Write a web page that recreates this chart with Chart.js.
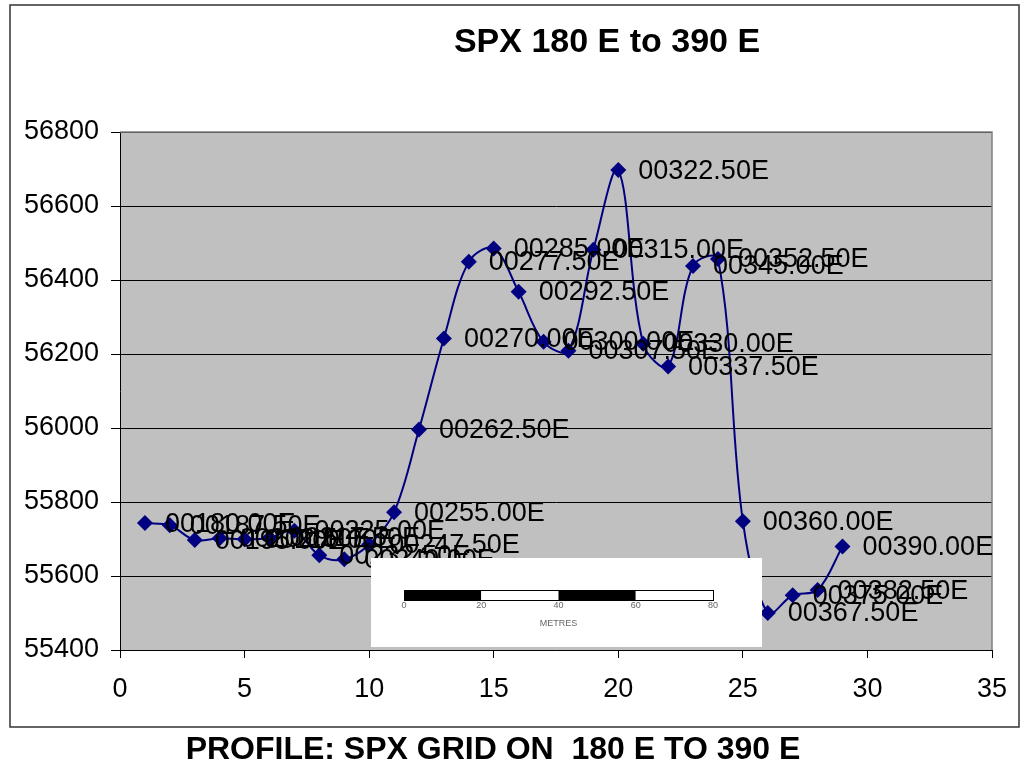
<!DOCTYPE html>
<html>
<head>
<meta charset="utf-8">
<title>SPX 180 E to 390 E</title>
<script src="https://cdn.jsdelivr.net/npm/chart.js@4/dist/chart.umd.min.js"></script>
<style>
  html, body { margin: 0; padding: 0; background: #fff; }
  #wrap { position: relative; width: 1026px; height: 766px; overflow: hidden; }
  #chart { position: absolute; left: 0; top: 0; }
  .caption {
    position: absolute; white-space: pre; transform: translateX(-50%);
    font-family: "Liberation Sans", Arial, sans-serif; font-weight: bold; color: #000;
    line-height: 40px;
  }
  #title { left: 607px; top: 20px; font-size: 34px; }
  #subtitle { left: 493px; top: 728px; font-size: 32px; }
</style>
</head>
<body>
<div id="wrap">
  <canvas id="chart" width="1026" height="766"></canvas>
  <div id="title" class="caption">SPX 180 E to 390 E</div>
  <div id="subtitle" class="caption">PROFILE: SPX GRID ON  180 E TO 390 E</div>
</div>
<script>
// Data
const stationIndex = [1, 2, 3, 4, 5, 6, 7, 8, 9, 10, 11, 12, 13, 14, 15,
  16, 17, 18, 19, 20, 21, 22, 23, 24, 25, 26, 27, 28, 29];
const northing = [55743, 55737, 55697, 55702, 55699, 55703, 55722, 55656, 55645, 55685,
  55772, 55996, 56242, 56449, 56485, 56368, 56233, 56209, 56482, 56697,
  56228, 56166, 56438, 56457, 55748, 55500, 55548, 55562, 55680];
const stationLabels = ["00180.00E", "00187.50E", "00195.00E", "00202.50E", "00210.00E",
  "00217.50E", "00225.00E", "00232.50E", "00240.00E", "00247.50E",
  "00255.00E", "00262.50E", "00270.00E", "00277.50E", "00285.00E",
  "00292.50E", "00300.00E", "00307.50E", "00315.00E", "00322.50E",
  "00330.00E", "00337.50E", "00345.00E", "00352.50E", "00360.00E",
  "00367.50E", "00375.00E", "00382.50E", "00390.00E"];
const xTicks = [0, 5, 10, 15, 20, 25, 30, 35];
const yTicks = [55400, 55600, 55800, 56000, 56200, 56400, 56600, 56800];
const scaleBarLabels = ["0", "20", "40", "60", "80"];

const FONT = '"Liberation Sans", Arial, sans-serif';

// Background, frame and plot area
const backgroundPlugin = {
  id: 'background',
  beforeDraw(chart) {
    const ctx = chart.ctx, a = chart.chartArea;
    ctx.save();
    ctx.fillStyle = '#fff';
    ctx.fillRect(0, 0, chart.width, chart.height);
    ctx.strokeStyle = '#333';
    ctx.lineWidth = 1.5;
    ctx.strokeRect(10, 5, 1009, 722);
    ctx.fillStyle = '#c0c0c0';
    ctx.fillRect(a.left, a.top, a.right - a.left, a.bottom - a.top);
    ctx.restore();
  },
  beforeDatasetsDraw(chart) {
    const ctx = chart.ctx, a = chart.chartArea;
    ctx.save();
    ctx.strokeStyle = '#808080';
    ctx.lineWidth = 1.5;
    ctx.beginPath();
    ctx.moveTo(a.left, a.top);
    ctx.lineTo(a.right, a.top);
    ctx.lineTo(a.right, a.bottom);
    ctx.stroke();
    ctx.restore();
  }
};

// Station labels next to each point
const pointLabelsPlugin = {
  id: 'pointLabels',
  afterDatasetsDraw(chart) {
    const ctx = chart.ctx;
    const meta = chart.getDatasetMeta(0);
    ctx.save();
    ctx.font = '27px ' + FONT;
    ctx.fillStyle = '#000';
    ctx.textAlign = 'left';
    ctx.textBaseline = 'middle';
    meta.data.forEach((pt, i) => ctx.fillText(stationLabels[i], pt.x + 20, pt.y + 1));
    ctx.restore();
  }
};

// Pasted scale bar picture
const scaleBarPlugin = {
  id: 'scaleBar',
  afterDraw(chart) {
    const ctx = chart.ctx;
    ctx.save();
    ctx.fillStyle = '#fff';
    ctx.fillRect(371, 558, 391, 89);
    const x0 = 404, w = 309, y0 = 590, h = 10;
    const seg = w / 4;
    for (let i = 0; i < 4; i++) {
      ctx.fillStyle = i % 2 === 0 ? '#000' : '#fff';
      ctx.fillRect(x0 + i * seg, y0, seg, h);
    }
    ctx.strokeStyle = '#000';
    ctx.lineWidth = 1;
    ctx.strokeRect(x0 + 0.5, y0 + 0.5, w, h);
    ctx.fillStyle = '#666';
    ctx.font = '9px ' + FONT;
    ctx.textAlign = 'center';
    ctx.textBaseline = 'middle';
    scaleBarLabels.forEach((t, i) => ctx.fillText(t, x0 + i * seg, y0 + h + 6));
    ctx.fillText('METRES', x0 + w / 2, 624);
    ctx.restore();
  }
};

const ctx = document.getElementById('chart').getContext('2d');
new Chart(ctx, {
  type: 'scatter',
  data: {
    datasets: [{
      label: 'Profile',
      data: stationIndex.map((x, i) => ({ x: x, y: northing[i] })),
      showLine: true,
      borderColor: '#000080',
      borderWidth: 2,
      tension: 0.35,
      pointStyle: 'rectRot',
      pointRadius: 8,
      pointBackgroundColor: '#000080',
      pointBorderColor: '#000080',
      pointBorderWidth: 0
    }]
  },
  options: {
    responsive: false,
    animation: false,
    events: [],
    layout: { padding: { top: 132, right: 34, bottom: 0, left: 0 } },
    plugins: {
      legend: { display: false },
      title: { display: false },
      tooltip: { enabled: false }
    },
    scales: {
      x: {
        type: 'linear',
        min: xTicks[0],
        max: xTicks[xTicks.length - 1],
        afterBuildTicks: s => { s.ticks = xTicks.map(v => ({ value: v })); },
        afterFit: s => { s.height = 116; },
        grid: { drawOnChartArea: false, drawTicks: true, tickLength: 8, color: '#000' },
        border: { color: '#000', width: 1 },
        ticks: { color: '#000', font: { family: FONT, size: 27 }, padding: 15, maxRotation: 0 }
      },
      y: {
        type: 'linear',
        min: yTicks[0],
        max: yTicks[yTicks.length - 1],
        afterBuildTicks: s => { s.ticks = yTicks.map(v => ({ value: v })); },
        afterFit: s => { s.width = 120; },
        grid: { drawTicks: true, tickLength: 9, color: '#000' },
        border: { color: '#000', width: 1 },
        ticks: { color: '#000', font: { family: FONT, size: 27 }, padding: 12, callback: v => String(v) }
      }
    }
  },
  plugins: [backgroundPlugin, pointLabelsPlugin, scaleBarPlugin]
});
</script>
</body>
</html>
